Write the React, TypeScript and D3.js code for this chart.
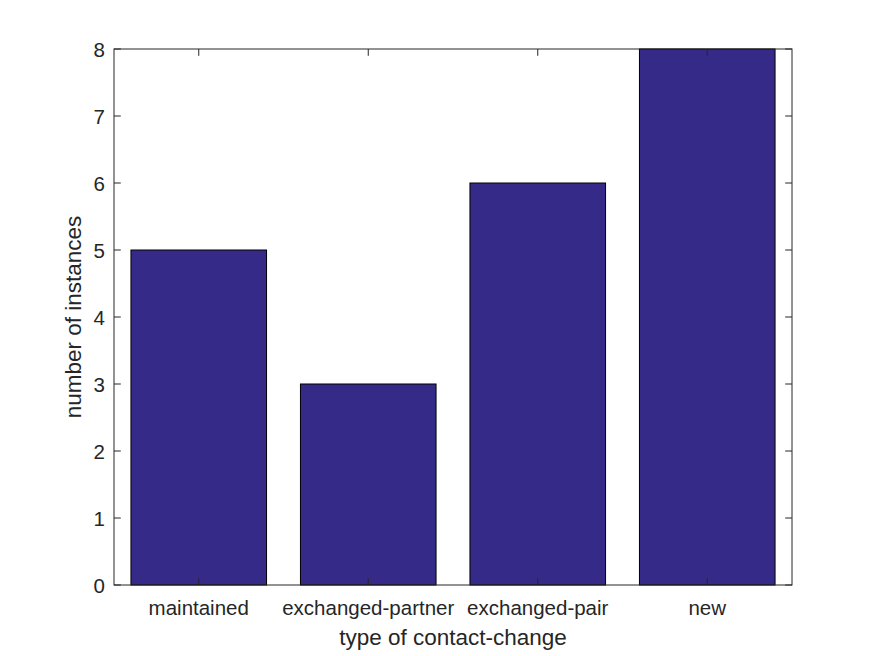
import React from "react";
import * as d3 from "d3";

const categories = ["maintained", "exchanged-partner", "exchanged-pair", "new"];
const counts = [5, 3, 6, 8];
const yTicks = [0, 1, 2, 3, 4, 5, 6, 7, 8];
const xLabel = "type of contact-change";
const yLabel = "number of instances";

const W = 875;
const H = 656;
const M = { left: 114, right: 792, top: 49, bottom: 585 };
const INK = "#262626";
const BAR = "#352A87";
const FONT = "'Liberation Sans', Arial, Helvetica, sans-serif";

export default function App() {
  const x = d3.scaleLinear().domain([0.5, categories.length + 0.5]).range([M.left, M.right]);
  const y = d3.scaleLinear().domain([0, 8]).range([M.bottom, M.top]);
  const bw = (x(1.4) - x(0.6));
  const tl = 6.8;

  return (
    <svg
      width={W}
      height={H}
      style={{ position: "absolute", left: 0, top: 0, background: "#fff" }}
      fontFamily={FONT}
    >
      <rect x={0} y={0} width={W} height={H} fill="#fff" />
      {counts.map((v, i) => (
        <rect
          key={categories[i]}
          x={x(i + 1) - bw / 2}
          y={y(v)}
          width={bw}
          height={y(0) - y(v)}
          fill={BAR}
          stroke="#000"
          strokeWidth={1}
        />
      ))}
      <rect
        x={M.left}
        y={M.top}
        width={M.right - M.left}
        height={M.bottom - M.top}
        fill="none"
        stroke={INK}
        strokeWidth={1}
      />
      {yTicks.map((t) => (
        <g key={"y" + t}>
          <line x1={M.left} x2={M.left + tl} y1={y(t)} y2={y(t)} stroke={INK} />
          <line x1={M.right} x2={M.right - tl} y1={y(t)} y2={y(t)} stroke={INK} />
          <text
            x={M.left - 9}
            y={y(t)}
            textAnchor="end"
            dominantBaseline="central"
            fontSize={20.5}
            fill={INK}
          >
            {t}
          </text>
        </g>
      ))}
      {categories.map((c, i) => (
        <g key={"x" + c}>
          <line x1={x(i + 1)} x2={x(i + 1)} y1={M.bottom} y2={M.bottom - tl} stroke={INK} />
          <line x1={x(i + 1)} x2={x(i + 1)} y1={M.top} y2={M.top + tl} stroke={INK} />
          <text x={x(i + 1)} y={615} textAnchor="middle" fontSize={20.5} fill={INK}>
            {c}
          </text>
        </g>
      ))}
      <text x={(M.left + M.right) / 2} y={645} textAnchor="middle" fontSize={22.5} fill={INK}>
        {xLabel}
      </text>
      <text
        transform={`translate(81, ${(M.top + M.bottom) / 2}) rotate(-90)`}
        textAnchor="middle"
        fontSize={22.5}
        fill={INK}
      >
        {yLabel}
      </text>
    </svg>
  );
}
